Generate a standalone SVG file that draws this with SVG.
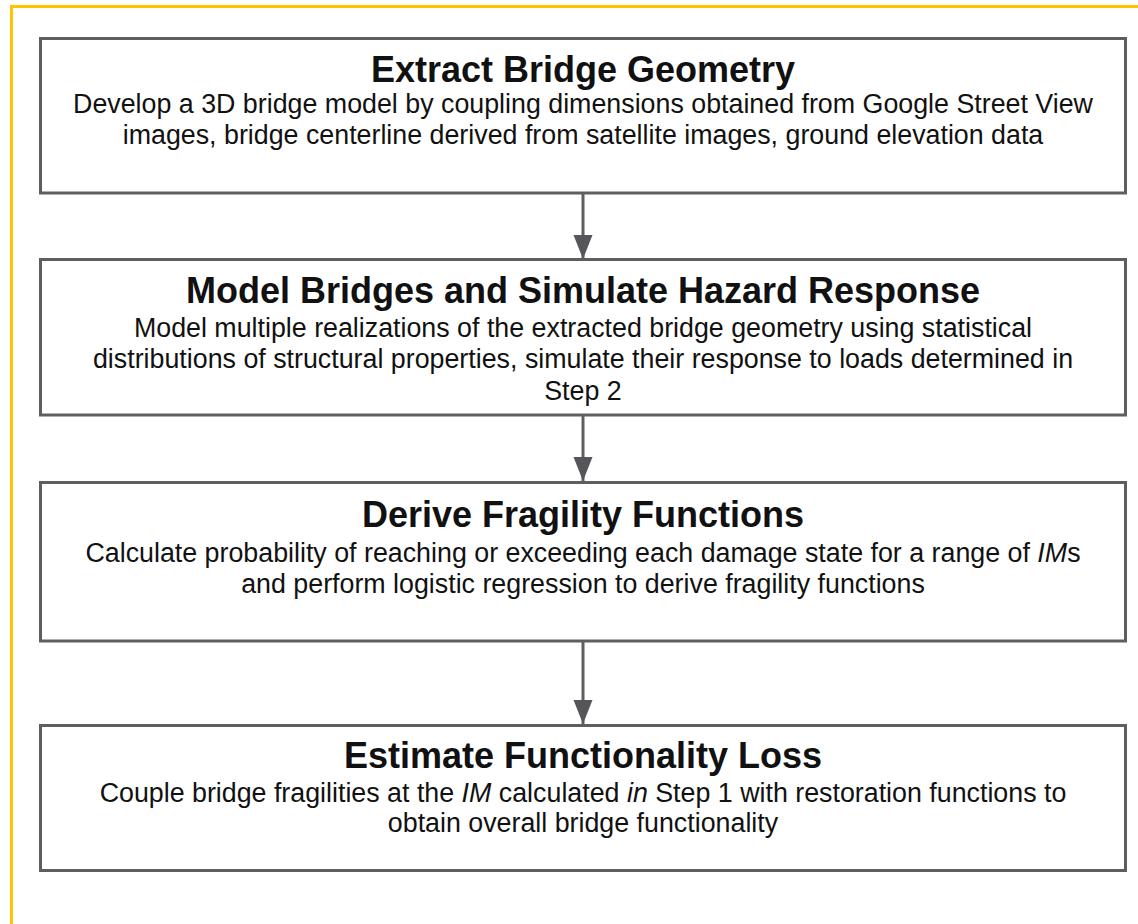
<svg xmlns="http://www.w3.org/2000/svg" width="1138" height="924" viewBox="0 0 1138 924">
<style>
.box{fill:#ffffff;stroke:#5e5e62;stroke-width:3}
.t{font-family:"Liberation Sans",Arial,Helvetica,sans-serif;font-weight:bold;font-size:36px;fill:#111;text-anchor:middle}
.b{font-family:"Liberation Sans",Arial,Helvetica,sans-serif;font-size:26.8px;fill:#111;text-anchor:middle}
.conn{stroke:#5e5e62;stroke-width:3;fill:none}
</style>
<defs>
<marker id="ah" markerUnits="userSpaceOnUse" markerWidth="26" markerHeight="22" refX="24" refY="10" orient="auto">
<path d="M0,0.5 L24,10 L0,19.5 Z" fill="#56565a"/>
</marker>
</defs>
<rect x="0" y="0" width="1138" height="924" fill="#ffffff"/>
<rect x="11.5" y="6.5" width="1140" height="940" fill="none" stroke="#ffc400" stroke-width="3"/>
<g id="connectors">
<line class="conn" x1="583" y1="193" x2="583" y2="259" marker-end="url(#ah)"/>
<line class="conn" x1="583" y1="415" x2="583" y2="481" marker-end="url(#ah)"/>
<line class="conn" x1="583" y1="641" x2="583" y2="724" marker-end="url(#ah)"/>
</g>
<g id="node1">
<rect class="box" x="40.5" y="38.5" width="1085" height="154.5"/>
<text class="t" x="583" y="82">Extract Bridge Geometry</text>
<text class="b" x="583" y="113">Develop a 3D bridge model by coupling dimensions obtained from Google Street View</text>
<text class="b" x="583" y="144">images, bridge centerline derived from satellite images, ground elevation data</text>
</g>
<g id="node2">
<rect class="box" x="40.5" y="259.5" width="1085" height="155.5"/>
<text class="t" x="583" y="303">Model Bridges and Simulate Hazard Response</text>
<text class="b" x="583" y="337">Model multiple realizations of the extracted bridge geometry using statistical</text>
<text class="b" x="583" y="368">distributions of structural properties, simulate their response to loads determined in</text>
<text class="b" x="583" y="400">Step 2</text>
</g>
<g id="node3">
<rect class="box" x="40.5" y="482.5" width="1085" height="158.5"/>
<text class="t" x="583" y="527">Derive Fragility Functions</text>
<text class="b" x="583" y="562">Calculate probability of reaching or exceeding each damage state for a range of <tspan font-style="italic">IM</tspan>s</text>
<text class="b" x="583" y="593">and perform logistic regression to derive fragility functions</text>
</g>
<g id="node4">
<rect class="box" x="40.5" y="725.5" width="1085" height="145"/>
<text class="t" x="583" y="768">Estimate Functionality Loss</text>
<text class="b" x="583" y="802">Couple bridge fragilities at the <tspan font-style="italic">IM</tspan> calculated <tspan font-style="italic">in</tspan> Step 1 with restoration functions to</text>
<text class="b" x="583" y="832">obtain overall bridge functionality</text>
</g>
</svg>
